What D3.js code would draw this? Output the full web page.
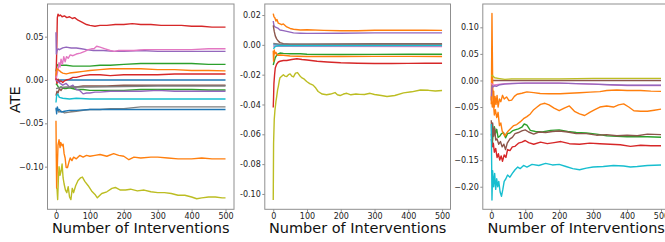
<!DOCTYPE html>
<html><head><meta charset="utf-8">
<script src="https://cdn.jsdelivr.net/npm/d3@7"></script>
<style>
html,body{margin:0;padding:0;background:#fff;}
svg{display:block;font-family:"DejaVu Sans",sans-serif;}
</style></head>
<body>
<div id="chart"></div>
<script>
// ---------------- DATA ----------------
const xTicks = [0, 100, 200, 300, 400, 500];
const yTicks1 = [0.05, 0.00, -0.05, -0.10];
const yTicks2 = [0.02, 0.00, -0.02, -0.04, -0.06, -0.08, -0.10];
const yTicks3 = [0.10, 0.05, 0.00, -0.05, -0.10, -0.15, -0.20];
const xLabel = "Number of Interventions";
const yLabel = "ATE";

// Panel 1 series: [interventions, ATE]
const p1_red = [[0,0.0],[2,0.03],[4,0.072],[6,0.076],[9,0.074],[13,0.075],[18,0.073],[25,0.074],[32,0.072],[40,0.073],[48,0.071],[55,0.072],[65,0.069],[75,0.067],[90,0.064],[100,0.063],[115,0.062],[130,0.063],[150,0.063],[175,0.064],[200,0.064],[225,0.065],[250,0.064],[280,0.064],[310,0.063],[340,0.063],[370,0.063],[400,0.062],[430,0.062],[460,0.061],[500,0.061]];
const p1_pink = [[0,0.0],[3,0.006],[6,0.012],[9,0.02],[12,0.015],[15,0.024],[19,0.018],[23,0.027],[27,0.021],[31,0.027],[36,0.025],[42,0.029],[50,0.028],[60,0.03],[72,0.031],[85,0.033],[95,0.035],[105,0.036],[112,0.036],[120,0.039],[130,0.038],[145,0.036],[160,0.034],[172,0.033],[185,0.034],[200,0.034],[230,0.034],[260,0.035],[300,0.035],[350,0.035],[400,0.035],[450,0.036],[500,0.036]];
const p1_purple = [[0,0.055],[1,0.03],[3,0.034],[6,0.036],[10,0.035],[20,0.037],[30,0.038],[45,0.037],[60,0.037],[75,0.036],[90,0.035],[110,0.034],[140,0.034],[170,0.033],[200,0.033],[250,0.034],[300,0.033],[350,0.033],[400,0.033],[450,0.033],[500,0.033]];
const p1_green = [[0,0.01],[3,0.016],[6,0.018],[15,0.017],[30,0.017],[50,0.016],[80,0.016],[100,0.016],[130,0.017],[160,0.017],[200,0.018],[250,0.019],[300,0.019],[350,0.019],[400,0.019],[450,0.018],[500,0.018]];
const p1_orange = [[0,0.005],[3,0.013],[6,0.012],[10,0.011],[15,0.009],[20,0.008],[30,0.007],[40,0.008],[60,0.009],[80,0.01],[100,0.011],[130,0.012],[160,0.013],[200,0.013],[250,0.013],[300,0.012],[350,0.012],[400,0.011],[450,0.011],[500,0.0105]];
const p1_red2 = [[0,0.002],[3,-0.004],[6,0.001],[10,-0.002],[15,-0.001],[20,-0.003],[25,-0.001],[30,0.0],[40,0.001],[50,0.003],[60,0.003],[80,0.005],[100,0.006],[130,0.006],[160,0.005],[200,0.006],[250,0.006],[300,0.006],[350,0.007],[400,0.007],[450,0.007],[500,0.007]];
const p1_blue = [[0,0.0],[500,0.0]];
const p1_brown = [[0,-0.018],[3,-0.013],[6,-0.015],[10,-0.01],[15,-0.012],[20,-0.009],[30,-0.01],[40,-0.008],[60,-0.008],[80,-0.007],[100,-0.007],[150,-0.007],[200,-0.006],[300,-0.006],[400,-0.006],[500,-0.006]];
const p1_gray2 = [[0,-0.01],[10,-0.009],[30,-0.008],[60,-0.008],[100,-0.008],[200,-0.0075],[300,-0.007],[400,-0.007],[500,-0.007]];
const p1_green2 = [[0,-0.004],[4,-0.006],[8,-0.009],[15,-0.008],[25,-0.01],[40,-0.009],[60,-0.011],[80,-0.011],[100,-0.012],[150,-0.012],[200,-0.012],[250,-0.011],[300,-0.011],[350,-0.011],[400,-0.011],[450,-0.0115],[500,-0.0115]];
const p1_purple2 = [[0,0.0],[10,-0.003],[20,-0.006],[30,-0.004],[40,-0.008],[50,-0.006],[60,-0.011],[70,-0.012],[80,-0.016],[90,-0.015],[100,-0.015],[115,-0.014],[130,-0.014],[160,-0.013],[200,-0.013],[250,-0.013],[300,-0.012],[350,-0.013],[400,-0.013],[450,-0.013],[500,-0.013]];
const p1_cyan = [[0,-0.026],[2,-0.018],[5,-0.016],[10,-0.02],[20,-0.021],[40,-0.022],[60,-0.021],[100,-0.022],[200,-0.022],[300,-0.022],[400,-0.022],[500,-0.022]];
const p1_gray = [[0,-0.035],[4,-0.033],[8,-0.037],[15,-0.036],[25,-0.038],[40,-0.037],[60,-0.036],[80,-0.035],[100,-0.034],[130,-0.034],[160,-0.033],[200,-0.033],[250,-0.031],[300,-0.031],[350,-0.031],[400,-0.031],[450,-0.031],[500,-0.031]];
const p1_blue2 = [[0,-0.032],[2,-0.039],[4,-0.031],[7,-0.035],[10,-0.034],[15,-0.037],[25,-0.036],[40,-0.035],[60,-0.035],[100,-0.034],[200,-0.034],[300,-0.034],[400,-0.034],[500,-0.034]];
const p1_orange2 = [[0,-0.047],[1,-0.09],[2,-0.125],[4,-0.1],[6,-0.075],[9,-0.069],[12,-0.078],[14,-0.072],[18,-0.076],[21,-0.074],[24,-0.085],[27,-0.09],[30,-0.101],[34,-0.101],[38,-0.095],[42,-0.09],[47,-0.093],[52,-0.089],[60,-0.091],[70,-0.087],[80,-0.089],[90,-0.087],[100,-0.088],[115,-0.087],[130,-0.086],[150,-0.088],[170,-0.085],[185,-0.087],[200,-0.088],[215,-0.092],[230,-0.089],[250,-0.09],[280,-0.089],[300,-0.089],[330,-0.09],[360,-0.091],[400,-0.091],[430,-0.09],[460,-0.091],[500,-0.091]];
const p1_olive = [[3,-0.125],[5,-0.138],[7,-0.115],[9,-0.1],[12,-0.11],[15,-0.105],[18,-0.097],[21,-0.113],[24,-0.12],[28,-0.127],[32,-0.13],[36,-0.123],[40,-0.135],[44,-0.138],[48,-0.125],[52,-0.13],[58,-0.122],[65,-0.116],[72,-0.113],[78,-0.112],[85,-0.117],[95,-0.122],[105,-0.128],[115,-0.132],[122,-0.136],[135,-0.131],[150,-0.129],[165,-0.125],[175,-0.124],[190,-0.127],[205,-0.127],[220,-0.126],[240,-0.128],[260,-0.127],[280,-0.129],[300,-0.13],[320,-0.13],[340,-0.131],[360,-0.133],[380,-0.133],[400,-0.135],[415,-0.137],[430,-0.136],[450,-0.135],[470,-0.135],[490,-0.136],[500,-0.136]];

// Panel 2 series
const p2_orange = [[0,0.021],[2,0.019],[5,0.018],[8,0.016],[11,0.017],[15,0.0145],[20,0.014],[25,0.0135],[30,0.014],[35,0.013],[40,0.012],[50,0.011],[60,0.0105],[80,0.01],[100,0.0101],[150,0.0097],[200,0.0095],[250,0.0095],[300,0.0098],[350,0.0098],[400,0.0098],[450,0.0098],[500,0.0097]];
const p2_purple = [[0,0.016],[2,0.013],[5,0.012],[10,0.0115],[15,0.011],[20,0.01],[30,0.0095],[40,0.009],[60,0.008],[80,0.0078],[100,0.0077],[200,0.0078],[300,0.008],[400,0.008],[500,0.008]];
const p2_brown = [[0,0.013],[3,0.009],[6,0.006],[10,0.004],[15,0.0025],[20,0.0015],[30,0.0008],[50,0.0005],[100,0.0005],[200,0.0006],[300,0.0007],[400,0.0007],[500,0.0007]];
const p2_gray = [[0,0.001],[20,0.0005],[500,0.0004]];
const p2_blue = [[0,0.0],[500,0.0]];
const p2_pink = [[0,-0.001],[500,-0.0012]];
const p2_cyan = [[0,-0.0025],[3,-0.002],[6,-0.001],[15,-0.0006],[500,-0.0005]];
const p2_orange2 = [[0,-0.004],[1,-0.011],[2,-0.008],[3,-0.0035],[5,-0.006],[8,-0.005],[12,-0.007],[20,-0.0068],[30,-0.007],[50,-0.0075],[100,-0.0078],[200,-0.0078],[300,-0.0077],[400,-0.0077],[500,-0.0078]];
const p2_green = [[0,-0.0135],[3,-0.011],[6,-0.0085],[10,-0.007],[15,-0.006],[20,-0.0055],[30,-0.0057],[50,-0.006],[80,-0.006],[100,-0.0063],[200,-0.0065],[300,-0.0064],[400,-0.0063],[500,-0.0063]];
const p2_red = [[0,-0.042],[1,-0.035],[2,-0.026],[4,-0.02],[6,-0.0155],[10,-0.013],[15,-0.0115],[20,-0.011],[30,-0.0105],[40,-0.0105],[55,-0.0098],[70,-0.0093],[85,-0.0098],[100,-0.0102],[130,-0.011],[160,-0.0115],[200,-0.012],[250,-0.0123],[300,-0.0125],[350,-0.0125],[400,-0.0124],[450,-0.0123],[500,-0.0123]];
const p2_olive = [[0,-0.104],[1,-0.066],[3,-0.05],[5,-0.044],[8,-0.038],[10,-0.035],[13,-0.03],[15,-0.028],[18,-0.024],[20,-0.022],[25,-0.021],[30,-0.02],[35,-0.021],[40,-0.0212],[45,-0.02],[50,-0.0195],[55,-0.021],[60,-0.0215],[66,-0.019],[72,-0.0186],[78,-0.0205],[84,-0.022],[92,-0.023],[99,-0.0246],[108,-0.026],[118,-0.027],[126,-0.029],[133,-0.0313],[145,-0.033],[158,-0.0335],[170,-0.033],[183,-0.032],[190,-0.0335],[198,-0.034],[208,-0.033],[218,-0.0325],[230,-0.0335],[245,-0.033],[257,-0.0332],[270,-0.0333],[287,-0.0325],[300,-0.0333],[320,-0.034],[337,-0.0346],[360,-0.034],[386,-0.0322],[410,-0.0315],[436,-0.0303],[460,-0.0305],[480,-0.031],[500,-0.0306]];

// Panel 3 series
const p3_orange = [[0,-0.045],[1,0.03],[2,0.126],[3,0.06],[4,0.0],[5,-0.04],[7,-0.02],[9,-0.05],[11,-0.03],[14,-0.045],[17,-0.028],[20,-0.05],[24,-0.035],[28,-0.04],[33,-0.028],[38,-0.035],[45,-0.031],[52,-0.038],[60,-0.037],[68,-0.03],[76,-0.026],[90,-0.024],[105,-0.0215],[125,-0.023],[144,-0.0245],[170,-0.025],[203,-0.025],[230,-0.024],[260,-0.023],[291,-0.022],[320,-0.021],[340,-0.019],[370,-0.018],[400,-0.019],[440,-0.019],[470,-0.02],[500,-0.0205]];
const p3_orange2 = [[0,-0.03],[3,-0.05],[6,-0.04],[9,-0.065],[12,-0.055],[16,-0.07],[20,-0.06],[24,-0.085],[28,-0.08],[32,-0.095],[36,-0.1],[40,-0.105],[44,-0.1],[50,-0.095],[58,-0.09],[66,-0.085],[75,-0.083],[85,-0.078],[95,-0.072],[105,-0.068],[115,-0.063],[125,-0.055],[135,-0.05],[145,-0.045],[158,-0.043],[170,-0.046],[185,-0.052],[200,-0.057],[215,-0.052],[230,-0.048],[245,-0.058],[260,-0.063],[275,-0.066],[290,-0.06],[305,-0.055],[320,-0.05],[340,-0.048],[360,-0.05],[375,-0.046],[390,-0.044],[405,-0.05],[420,-0.057],[440,-0.058],[460,-0.058],[480,-0.056],[500,-0.054]];
const p3_olive = [[0,0.01],[5,0.008],[10,0.005],[20,0.004],[30,0.003],[40,0.002],[60,0.003],[100,0.003],[200,0.003],[300,0.004],[400,0.004],[500,0.004]];
const p3_brownZero = [[0,0.0],[500,0.0]];
const p3_purple = [[0,-0.038],[2,-0.01],[5,-0.012],[10,-0.01],[15,-0.011],[25,-0.008],[40,-0.007],[60,-0.006],[100,-0.005],[150,-0.005],[200,-0.005],[250,-0.006],[300,-0.007],[350,-0.008],[400,-0.009],[450,-0.009],[500,-0.009]];
const p3_pink = [[0,-0.005],[5,-0.009],[15,-0.008],[40,-0.006],[100,-0.005],[200,-0.005],[300,-0.007],[400,-0.0095],[500,-0.0095]];
const p3_green = [[0,-0.1],[3,-0.12],[6,-0.095],[9,-0.087],[12,-0.1],[16,-0.092],[20,-0.107],[25,-0.105],[30,-0.1],[36,-0.098],[42,-0.108],[48,-0.1],[55,-0.099],[62,-0.095],[70,-0.093],[80,-0.091],[90,-0.088],[97,-0.082],[105,-0.084],[115,-0.094],[130,-0.096],[150,-0.097],[175,-0.094],[200,-0.093],[225,-0.096],[250,-0.098],[280,-0.099],[310,-0.101],[340,-0.104],[370,-0.105],[400,-0.106],[430,-0.106],[460,-0.106],[500,-0.107]];
const p3_brown = [[0,-0.075],[2,-0.12],[4,-0.08],[7,-0.105],[10,-0.09],[13,-0.112],[17,-0.11],[22,-0.12],[27,-0.115],[32,-0.125],[37,-0.12],[42,-0.13],[47,-0.118],[55,-0.11],[62,-0.107],[70,-0.1],[80,-0.098],[90,-0.095],[100,-0.093],[110,-0.097],[125,-0.101],[140,-0.097],[160,-0.098],[180,-0.096],[200,-0.095],[225,-0.097],[250,-0.1],[280,-0.1],[310,-0.103],[340,-0.102],[370,-0.104],[400,-0.103],[430,-0.104],[460,-0.101],[500,-0.102]];
const p3_red = [[0,-0.11],[3,-0.125],[6,-0.118],[9,-0.135],[13,-0.128],[17,-0.145],[21,-0.138],[25,-0.15],[29,-0.142],[33,-0.152],[38,-0.14],[43,-0.145],[48,-0.13],[55,-0.132],[62,-0.125],[70,-0.124],[80,-0.118],[90,-0.116],[100,-0.113],[110,-0.117],[125,-0.12],[145,-0.116],[165,-0.119],[185,-0.117],[205,-0.115],[230,-0.119],[260,-0.12],[290,-0.118],[320,-0.119],[350,-0.12],[380,-0.121],[410,-0.124],[440,-0.122],[470,-0.123],[500,-0.123]];
const p3_cyan = [[0,-0.082],[1,-0.15],[2,-0.225],[4,-0.17],[7,-0.2],[10,-0.175],[13,-0.205],[16,-0.185],[19,-0.2],[22,-0.19],[26,-0.21],[30,-0.218],[34,-0.205],[38,-0.19],[43,-0.185],[48,-0.178],[55,-0.182],[62,-0.175],[70,-0.168],[78,-0.163],[85,-0.166],[95,-0.16],[105,-0.163],[120,-0.158],[140,-0.16],[160,-0.156],[180,-0.159],[200,-0.158],[220,-0.162],[240,-0.166],[260,-0.168],[280,-0.165],[300,-0.163],[330,-0.162],[360,-0.16],[390,-0.161],[410,-0.163],[430,-0.162],[460,-0.16],[500,-0.159]];

// ---------------- STYLE ----------------
const C = {blue:"#1f77b4", orange:"#ff7f0e", green:"#2ca02c", red:"#d62728", purple:"#9467bd",
           brown:"#8c564b", pink:"#e377c2", gray:"#7f7f7f", olive:"#bcbd22", cyan:"#17becf"};

const panels = [
  { left:47.5, right:234, domain:[-0.1492, 0.0877], ticks:yTicks1, minus:"\u2212", ylabel:true,
    series:[[p1_blue,C.blue],[p1_orange2,C.orange],[p1_green,C.green],[p1_red,C.red],[p1_purple,C.purple],
            [p1_brown,C.brown],[p1_pink,C.pink],[p1_gray,C.gray],[p1_olive,C.olive],[p1_cyan,C.cyan],
            [p1_blue2,C.blue],[p1_orange,C.orange],[p1_green2,C.green],[p1_red2,C.red],[p1_purple2,C.purple],[p1_gray2,C.gray]] },
  { left:264.8, right:450.5, domain:[-0.1103, 0.0274], ticks:yTicks2, minus:"-",
    series:[[p2_blue,C.blue],[p2_orange,C.orange],[p2_green,C.green],[p2_red,C.red],[p2_purple,C.purple],
            [p2_brown,C.brown],[p2_pink,C.pink],[p2_gray,C.gray],[p2_olive,C.olive],[p2_cyan,C.cyan],[p2_orange2,C.orange]] },
  { left:482.8, right:669.5, domain:[-0.2425, 0.1439], ticks:yTicks3, minus:"\u2212",
    series:[[p3_brownZero,C.brown],[p3_orange,C.orange],[p3_green,C.green],[p3_red,C.red],[p3_pink,C.pink],[p3_purple,C.purple],
            [p3_brown,C.brown],[p3_olive,C.olive],[p3_cyan,C.cyan],[p3_orange2,C.orange]] }
];

const W = 665, H = 242, plotTop = 4, plotBottom = 209.3;
const svg = d3.select("#chart").append("svg").attr("width", W).attr("height", H);
const frameColor = "#8f8f8f";

panels.forEach((p, i) => {
  const x = d3.scaleLinear().domain([-25, 525]).range([p.left, p.right]);
  const y = d3.scaleLinear().domain(p.domain).range([plotBottom, plotTop]);
  const g = svg.append("g");
  const clipId = "clip" + i;
  svg.append("clipPath").attr("id", clipId).append("rect")
    .attr("x", p.left).attr("y", plotTop).attr("width", p.right - p.left).attr("height", plotBottom - plotTop);

  const line = d3.line().x(d => x(d[0])).y(d => y(d[1]));
  const lg = g.append("g").attr("clip-path", `url(#${clipId})`);
  p.series.forEach(([data, color]) => {
    lg.append("path").attr("d", line(data)).attr("fill", "none")
      .attr("stroke", color).attr("stroke-width", 1.4).attr("stroke-linejoin", "round");
  });

  g.append("rect").attr("x", p.left).attr("y", plotTop).attr("width", p.right - p.left).attr("height", plotBottom - plotTop)
    .attr("fill", "none").attr("stroke", frameColor).attr("stroke-width", 1);

  const xa = g.append("g").attr("transform", `translate(0,${plotBottom})`)
    .call(d3.axisBottom(x).tickValues(xTicks).tickFormat(d3.format("d")).tickSize(2.5).tickPadding(1.5));
  xa.select(".domain").remove();
  xa.selectAll(".tick line").attr("stroke", frameColor);
  xa.selectAll(".tick text").attr("font-size", 8).attr("fill", "#222").attr("font-family", "DejaVu Sans");

  const fmtY = v => { const s = d3.format(".2f")(Math.abs(v)); return v < -1e-9 ? p.minus + s : s; };
  const ya = g.append("g").attr("transform", `translate(${p.left},0)`)
    .call(d3.axisLeft(y).tickValues(p.ticks).tickFormat(fmtY).tickSize(2.5).tickPadding(1.5));
  ya.select(".domain").remove();
  ya.selectAll(".tick line").attr("stroke", frameColor);
  ya.selectAll(".tick text").attr("font-size", 8).attr("fill", "#222").attr("font-family", "DejaVu Sans");

  g.append("text").attr("x", (p.left + p.right) / 2).attr("y", 233.3).attr("text-anchor", "middle")
    .attr("font-size", 14.5).attr("fill", "#111").text(xLabel);

  if (p.ylabel) {
    g.append("text").attr("transform", `translate(20,${(plotTop + plotBottom) / 2 - 7}) rotate(-90)`)
      .attr("text-anchor", "middle").attr("font-size", 14.5).attr("fill", "#111").text(yLabel);
  }
});
</script>
</body></html>
